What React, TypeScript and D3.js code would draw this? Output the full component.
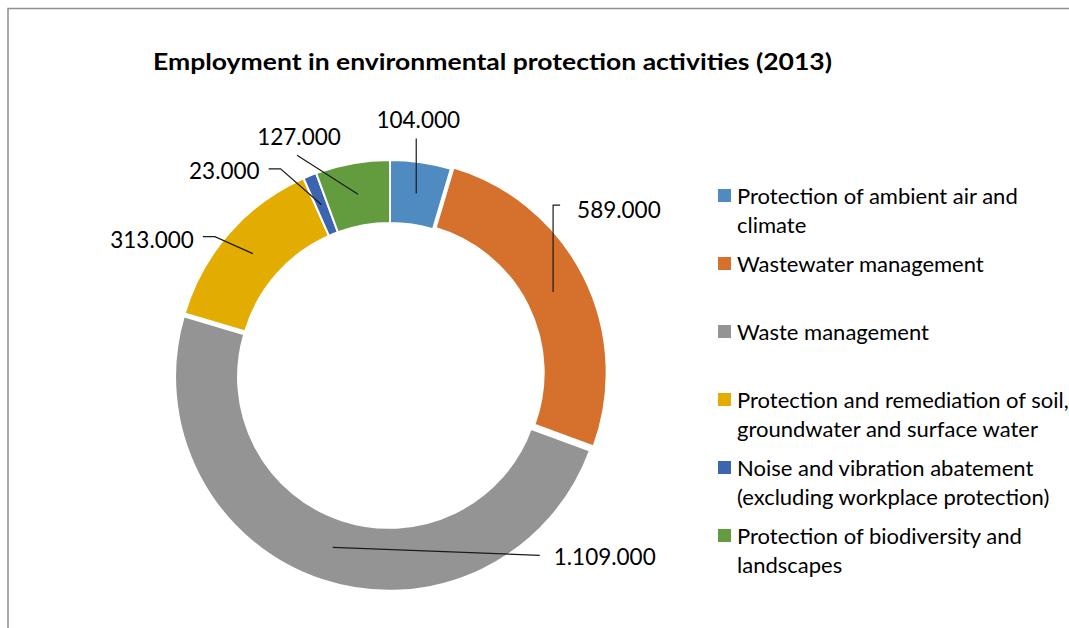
import React from "react";
import * as d3 from "d3";

// Employment by environmental protection domain, 2013
const categories = [
  "Protection of ambient air and climate",
  "Wastewater management",
  "Waste management",
  "Protection and remediation of soil, groundwater and surface water",
  "Noise and vibration abatement (excluding workplace protection)",
  "Protection of biodiversity and landscapes",
];
const legendLines = [
  ["Protection of ambient air and", "climate"],
  ["Wastewater management"],
  ["Waste management"],
  ["Protection and remediation of soil,", "groundwater and surface water"],
  ["Noise and vibration abatement", "(excluding workplace protection)"],
  ["Protection of biodiversity and", "landscapes"],
];
const employment = [104000, 589000, 1109000, 313000, 23000, 127000];
const colors = ["#4f8bc1", "#d5702d", "#949494", "#e3ac01", "#3c65b0", "#629c3f"];
const exploded = [0, 3, 3, 0, 0, 0];

// label placement relative to each slice centroid: text anchor point and elbow
const labelLayout = [
  { dx: 2, dy: -65, anchor: "middle", elbow: null as null | [number, number], lineStart: [0, -55] },
  { dx: 24, dy: -74, anchor: "start", elbow: [0, -87], lineStart: [7, -87] },
  { dx: 221, dy: 18, anchor: "start", elbow: null, lineStart: [207, 8] },
  { dx: -59, dy: -6, anchor: "end", elbow: [-38, -17], lineStart: [-50, -17] },
  { dx: -62, dy: -26, anchor: "end", elbow: [-41, -36], lineStart: [-53, -36] },
  { dx: -59, dy: -49, anchor: "middle", elbow: null, lineStart: [-61, -39] },
];

const fmt = (v: number) => d3.format(",")(v).replace(/,/g, ".");

const W = 1069;
const H = 628;
const cx = 390;
const cy = 374;
const rOuter = 214;
const rInner = 151;
const FONT = "Lato, 'Open Sans', sans-serif";

export default function App() {
  const pie = d3
    .pie<number>()
    .sort(null)
    .value((d) => d)
    .startAngle(0)
    .endAngle(2 * Math.PI);
  const arcs = pie(employment);
  const arc = d3.arc<d3.PieArcDatum<number>>().innerRadius(rInner).outerRadius(rOuter);

  return (
    <svg
      width={W}
      height={H}
      style={{ position: "absolute", left: 0, top: 0, background: "#fff" }}
      fontFamily={FONT}
    >
      <rect x={8} y={8.5} width={1200} height={800} fill="#fff" stroke="#8f8f8f" strokeWidth={1.5} />
      <text
        x={492.5}
        y={70}
        textAnchor="middle"
        fontSize={23.5}
        fontWeight="bold"
        fill="#000"
        textLength={679}
        lengthAdjust="spacingAndGlyphs"
      >
        Employment in environmental protection activities (2013)
      </text>

      <g transform={`translate(${cx},${cy})`}>
        {arcs.map((a, i) => {
          const mid = (a.startAngle + a.endAngle) / 2;
          const ox = Math.sin(mid) * exploded[i];
          const oy = -Math.cos(mid) * exploded[i];
          return (
            <path
              key={categories[i]}
              d={arc(a) ?? ""}
              transform={`translate(${ox},${oy})`}
              fill={colors[i]}
              stroke="#fff"
              strokeWidth={2}
            />
          );
        })}
        {arcs.map((a, i) => {
          const [px, py] = arc.centroid(a);
          const L = labelLayout[i];
          const pts: [number, number][] = [[px + L.lineStart[0], py + L.lineStart[1]]];
          if (L.elbow) pts.push([px + L.elbow[0], py + L.elbow[1]]);
          pts.push([px, py]);
          return (
            <g key={"lbl" + i}>
              <path d={d3.line()(pts) ?? ""} fill="none" stroke="#1a1a1a" strokeWidth={1.2} />
              <text
                x={px + L.dx}
                y={py + L.dy}
                textAnchor={L.anchor as any}
                fontSize={22.5}
                fill="#000"
              >
                {fmt(employment[i])}
              </text>
            </g>
          );
        })}
      </g>

      <g>
        {legendLines.map((lines, i) => {
          const base = 204 + i * 68;
          return (
            <g key={"leg" + i}>
              <rect x={718} y={base - 15} width={13} height={13} fill={colors[i]} />
              {lines.map((ln, j) => (
                <text key={j} x={737} y={base + j * 29} fontSize={22} fill="#000">
                  {ln}
                </text>
              ))}
            </g>
          );
        })}
      </g>
    </svg>
  );
}
